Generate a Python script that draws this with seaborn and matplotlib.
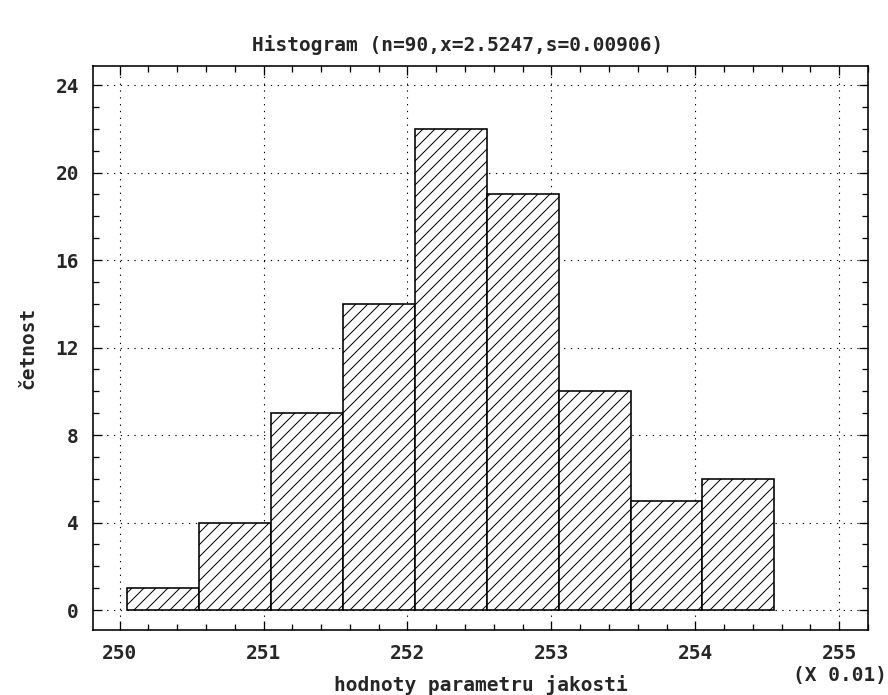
import matplotlib
matplotlib.use("Agg")
import matplotlib.pyplot as plt
from matplotlib.ticker import MultipleLocator
import seaborn as sns
import numpy as np

# histogram data (values in units of 0.01)
bin_edges = [250.05, 250.55, 251.05, 251.55, 252.05, 252.55, 253.05, 253.55, 254.05, 254.55]
counts = [1, 4, 9, 14, 22, 19, 10, 5, 6]
x_ticks = [250, 251, 252, 253, 254, 255]
y_ticks = [0, 4, 8, 12, 16, 20, 24]

title = "Histogram (n=90,x=2.5247,s=0.00906)"
x_label = "hodnoty parametru jakosti"
y_label = "četnost"
x_scale_note = "(X 0.01)"

sns.set_style("ticks")
plt.rcParams["font.family"] = ["DejaVu Sans Mono", "DejaVu Sans"]
plt.rcParams["font.weight"] = "bold"
plt.rcParams["hatch.linewidth"] = 1.0

dpi = 72
fs = 19.5
fig = plt.figure(figsize=(888 / dpi, 695 / dpi), dpi=dpi)
ax = fig.add_axes([93 / 888, 1 - 630 / 695, (868 - 93) / 888, (630 - 66) / 695])

edges = np.array(bin_edges)
centers = (edges[:-1] + edges[1:]) / 2
sns.histplot(x=centers, weights=counts, bins=bin_edges, ax=ax,
             color="white", alpha=1, edgecolor="black", linewidth=1.6,
             hatch="//", zorder=2)

ax.set_xlim(249.815, 255.2)
ax.set_ylim(-0.91, 24.87)
ax.set_xticks(x_ticks)
ax.set_yticks(y_ticks)
ax.xaxis.set_minor_locator(MultipleLocator(0.2))
ax.yaxis.set_minor_locator(MultipleLocator(1))

ax.grid(True, which="major", color="black", linestyle=(0, (1.2, 5)), linewidth=1.1, zorder=0)
ax.set_axisbelow(True)

for s in ax.spines.values():
    s.set_visible(True)
    s.set_linewidth(1.6)
    s.set_color("black")

ax.tick_params(which="both", direction="in", top=True, right=True,
               color="black", width=1.3)
ax.tick_params(which="major", length=9)
ax.tick_params(which="minor", length=6)
ax.tick_params(axis="x", which="major", labelsize=fs, pad=14)
ax.tick_params(axis="y", which="major", labelsize=fs, pad=14)

ax.set_xlabel(x_label, fontsize=fs, fontweight="bold", labelpad=12)
ax.set_ylabel(y_label, fontsize=fs, fontweight="bold", labelpad=18)
fig.text(458 / 888, 1 - 45 / 695, title, ha="center", va="center", fontsize=fs, fontweight="bold")
fig.text(887 / 888, 1 - 676 / 695, x_scale_note, ha="right", va="center", fontsize=fs, fontweight="bold")

fig.savefig("out.png", dpi=dpi, facecolor="white")
